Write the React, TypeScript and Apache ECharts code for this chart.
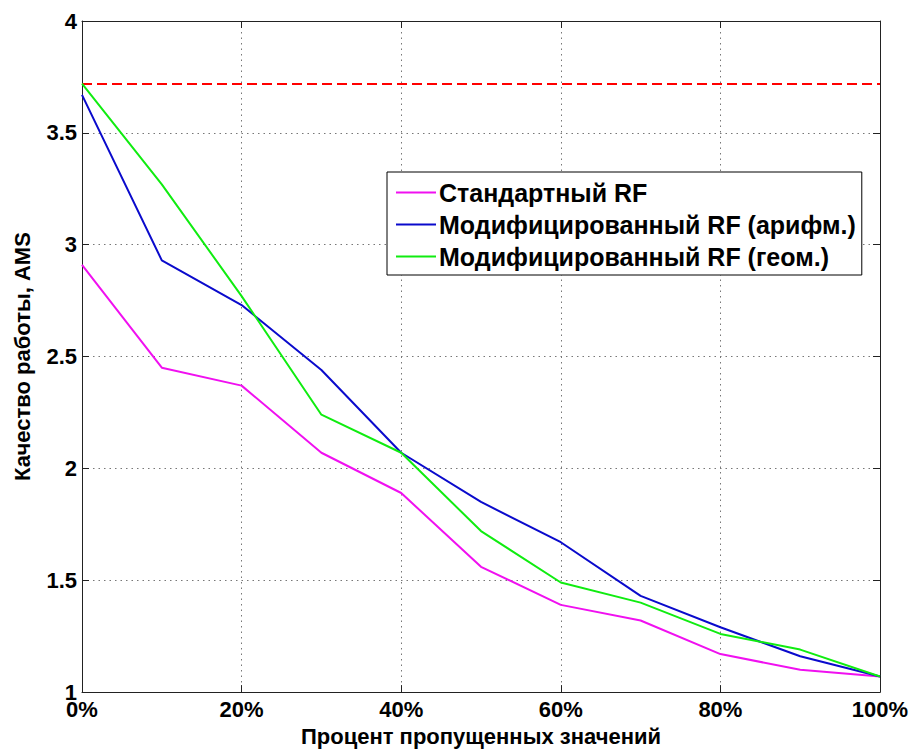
import React, { useEffect, useRef } from "react";
import * as echarts from "echarts";

const xValues = [0, 10, 20, 30, 40, 50, 60, 70, 80, 90, 100];
const standardRF = [2.91, 2.45, 2.37, 2.07, 1.89, 1.56, 1.39, 1.32, 1.17, 1.1, 1.07];
const modArithRF = [3.67, 2.93, 2.73, 2.44, 2.07, 1.85, 1.67, 1.43, 1.29, 1.16, 1.07];
const modGeomRF = [3.72, 3.27, 2.77, 2.24, 2.07, 1.72, 1.49, 1.4, 1.26, 1.19, 1.07];
const referenceLevel = 3.72;
const seriesNames = [
  "Стандартный RF",
  "Модифицированный RF (арифм.)",
  "Модифицированный RF (геом.)",
];
const seriesColors = ["#f010f0", "#0a0acc", "#10ec10"];
const xTitle = "Процент пропущенных значений";
const yTitle = "Качество работы, AMS";

const FONT = "'Liberation Sans', Arial, sans-serif";

export default function App() {
  const ref = useRef<HTMLDivElement>(null);
  useEffect(() => {
    document.body.style.margin = "0";
    const chart = echarts.init(ref.current!, null, { renderer: "svg" });
    const allSeries = [standardRF, modArithRF, modGeomRF];
    const series: any[] = allSeries.map((vals, i) => ({
      name: seriesNames[i],
      type: "line",
      xAxisIndex: 0,
      yAxisIndex: 0,
      symbol: "none",
      data: xValues.map((x, j) => [x, vals[j]]),
      lineStyle: { color: seriesColors[i], width: 2 },
      itemStyle: { color: seriesColors[i] },
      z: 3 + i,
    }));
    series.push({
      name: "ref",
      type: "line",
      xAxisIndex: 0,
      yAxisIndex: 0,
      symbol: "none",
      data: [],
      markLine: {
        silent: true,
        symbol: "none",
        label: { show: false },
        lineStyle: { color: "#ff0000", width: 2, type: [10, 5] },
        data: [{ yAxis: referenceLevel }],
      },
    });
    const gridLine = { show: true, lineStyle: { color: "#777", width: 1, type: [1.5, 4] } };
    chart.setOption({
      animation: false,
      backgroundColor: "#fff",
      grid: { left: 82, top: 21, right: 33, bottom: 56, containLabel: false },
      legend: {
        data: seriesNames,
        orient: "vertical",
        left: 387,
        top: 172,
        backgroundColor: "#fff",
        borderColor: "#000",
        borderWidth: 1,
        borderRadius: 0,
        padding: [8, 6, 6, 9],
        itemGap: 7,
        itemWidth: 40,
        itemHeight: 2,
        icon: "rect",
        textStyle: {
          fontFamily: FONT,
          fontWeight: "bold",
          fontSize: 25,
          color: "#000",
          lineHeight: 25,
          padding: [0, 0, 0, -2],
        },
      },
      xAxis: [
        {
          type: "value",
          min: 0,
          max: 100,
          interval: 20,
          position: "bottom",
          name: xTitle,
          nameLocation: "middle",
          nameGap: 30,
          nameTextStyle: { fontFamily: FONT, fontWeight: "bold", fontSize: 22, color: "#000" },
          axisLine: { show: true, onZero: false, lineStyle: { color: "#222", width: 1 } },
          axisTick: { show: true, inside: true, length: 7, lineStyle: { color: "#222" } },
          axisLabel: {
            formatter: "{value}%",
            fontFamily: FONT,
            fontWeight: "bold",
            fontSize: 22,
            color: "#000",
            margin: 6,
          },
          splitLine: gridLine,
        },
        {
          type: "value",
          min: 0,
          max: 100,
          interval: 20,
          position: "top",
          axisLine: { show: true, onZero: false, lineStyle: { color: "#222", width: 1 } },
          axisTick: { show: true, inside: true, length: 7, lineStyle: { color: "#222" } },
          axisLabel: { show: false },
          splitLine: { show: false },
        },
      ],
      yAxis: [
        {
          type: "value",
          min: 1,
          max: 4,
          interval: 0.5,
          position: "left",
          name: yTitle,
          nameLocation: "middle",
          nameGap: 49,
          nameRotate: 90,
          nameTextStyle: { fontFamily: FONT, fontWeight: "bold", fontSize: 22, color: "#000" },
          axisLine: { show: true, onZero: false, lineStyle: { color: "#222", width: 1 } },
          axisTick: { show: true, inside: true, length: 7, lineStyle: { color: "#222" } },
          axisLabel: {
            fontFamily: FONT,
            fontWeight: "bold",
            fontSize: 22,
            color: "#000",
            margin: 5,
          },
          splitLine: gridLine,
        },
        {
          type: "value",
          min: 1,
          max: 4,
          interval: 0.5,
          position: "right",
          axisLine: { show: true, onZero: false, lineStyle: { color: "#222", width: 1 } },
          axisTick: { show: true, inside: true, length: 7, lineStyle: { color: "#222" } },
          axisLabel: { show: false },
          splitLine: { show: false },
        },
      ],
      series,
    });
    return () => chart.dispose();
  }, []);
  return <div ref={ref} style={{ width: 913, height: 752 }} />;
}
